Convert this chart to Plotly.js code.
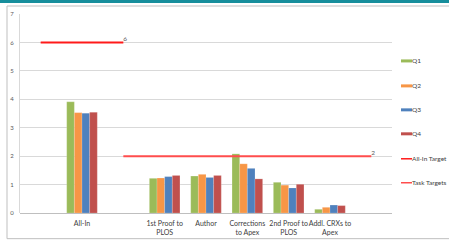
<!DOCTYPE html>
<html><head><meta charset="utf-8">
<script src="https://cdn.plot.ly/plotly-3.0.1.min.js"></script>
<style>html,body{margin:0;padding:0;background:#fff;}#chart{width:449px;height:241px;}</style>
</head><body><div id="chart"></div>
<script>
var allCategories = [" ", "All-In", "  ", "1st Proof to<br>PLOS", "Author", "Corrections<br>to Apex", "2nd Proof to<br>PLOS", "Addl. CRXs to<br>Apex", "   "];
var barCategories = ["All-In", "1st Proof to<br>PLOS", "Author", "Corrections<br>to Apex", "2nd Proof to<br>PLOS", "Addl. CRXs to<br>Apex"];
var q1 = [3.91, 1.22, 1.30, 2.08, 1.08, 0.13];
var q2 = [3.53, 1.23, 1.36, 1.73, 0.98, 0.20];
var q3 = [3.51, 1.28, 1.25, 1.57, 0.88, 0.28];
var q4 = [3.54, 1.32, 1.32, 1.20, 1.01, 0.26];
var allInTargetX = [" ", "All-In", "  "];
var allInTarget = [6, 6, 6];
var taskTargetX = ["  ", "1st Proof to<br>PLOS", "Author", "Corrections<br>to Apex", "2nd Proof to<br>PLOS", "Addl. CRXs to<br>Apex", "   "];
var taskTarget = [2, 2, 2, 2, 2, 2, 2];
var seriesNames = ["Q1", "Q2", "Q3", "Q4", "All-In Target", "Task Targets"];
var seriesColors = ["#9bbb59", "#f79646", "#4f81bd", "#c0504d", "#ff1a1a", "#ff4d4d"];

var W = 449, H = 241, L = 20, R = 392, T = 14, B = 213.3;
function px(x){ return (x - L) / (R - L); }
function py(y){ return (B - y) / (B - T); }

var fam = "Lato, 'Open Sans', sans-serif";
var font = {family: fam, size: 6.5, color: "#404040"};
var barSeries = [q1, q2, q3, q4];
var traces = [];
barSeries.forEach(function(vals, i){
  traces.push({type: "bar", x: barCategories, y: vals, name: seriesNames[i],
    marker: {color: seriesColors[i], line: {color: "rgba(255,255,255,0.35)", width: 0.5}},
    showlegend: false, hoverinfo: "skip"});
});
traces.push({type: "scatter", mode: "lines+text", x: allInTargetX, y: allInTarget, name: seriesNames[4],
  line: {color: seriesColors[4], width: 2},
  text: allInTarget.map(function(v, i){ return i === allInTarget.length - 1 ? String(v) : ""; }),
  textposition: "top right", textfont: {family: fam, size: 6.5, color: "#595959"},
  showlegend: false, cliponaxis: false});
traces.push({type: "scatter", mode: "lines+text", x: taskTargetX, y: taskTarget, name: seriesNames[5],
  line: {color: seriesColors[5], width: 2},
  text: taskTarget.map(function(v, i){ return i === taskTarget.length - 1 ? String(v) : ""; }),
  textposition: "top right", textfont: {family: fam, size: 6.5, color: "#595959"},
  showlegend: false, cliponaxis: false});

var shapes = [
  {type: "rect", xref: "paper", yref: "paper", x0: px(7), x1: px(470), y0: py(239), y1: py(6),
   line: {color: "#bfbfbf", width: 1}, fillcolor: "rgba(0,0,0,0)", layer: "below"},
  {type: "rect", xref: "paper", yref: "paper", x0: px(-5), x1: px(460), y0: py(3), y1: py(-2),
   line: {width: 0}, fillcolor: "#178e9c", layer: "above"}
];
var annotations = [];
var legendY = [61, 86, 110, 134, 159, 183];
seriesNames.forEach(function(n, i){
  shapes.push({type: "line", xref: "paper", yref: "paper", x0: px(401), x1: px(412), y0: py(legendY[i]), y1: py(legendY[i]),
    line: {color: seriesColors[i], width: i < 4 ? 3 : 1.5}});
  annotations.push({xref: "paper", yref: "paper", x: px(411), y: py(legendY[i]), text: n, showarrow: false,
    xanchor: "left", yanchor: "middle", font: font, borderpad: 0});
});

var layout = {
  width: W, height: H,
  margin: {l: L, r: W - R, t: T, b: H - B},
  paper_bgcolor: "#ffffff", plot_bgcolor: "#ffffff",
  barmode: "group", bargap: 0.26, bargroupgap: 0,
  showlegend: false,
  font: font,
  xaxis: {type: "category", categoryorder: "array", categoryarray: allCategories,
    range: [-0.5, allCategories.length - 0.5], showgrid: false, zeroline: false,
    showline: false, ticks: "", tickangle: 0, ticklabelstandoff: 5,
    tickfont: {family: fam, size: 7, color: "#404040"}, fixedrange: true, automargin: false},
  yaxis: {range: [0, 7], dtick: 1, showgrid: true, gridcolor: "#d9d9d9", gridwidth: 1,
    zeroline: true, zerolinecolor: "#bfbfbf", zerolinewidth: 1,
    showline: true, linecolor: "#d9d9d9", linewidth: 1, ticks: "", ticklabelstandoff: 4,
    tickfont: {family: fam, size: 6, color: "#595959"}, fixedrange: true, automargin: false},
  shapes: shapes, annotations: annotations
};
Plotly.newPlot("chart", traces, layout, {staticPlot: true, displayModeBar: false});
</script></body></html>
